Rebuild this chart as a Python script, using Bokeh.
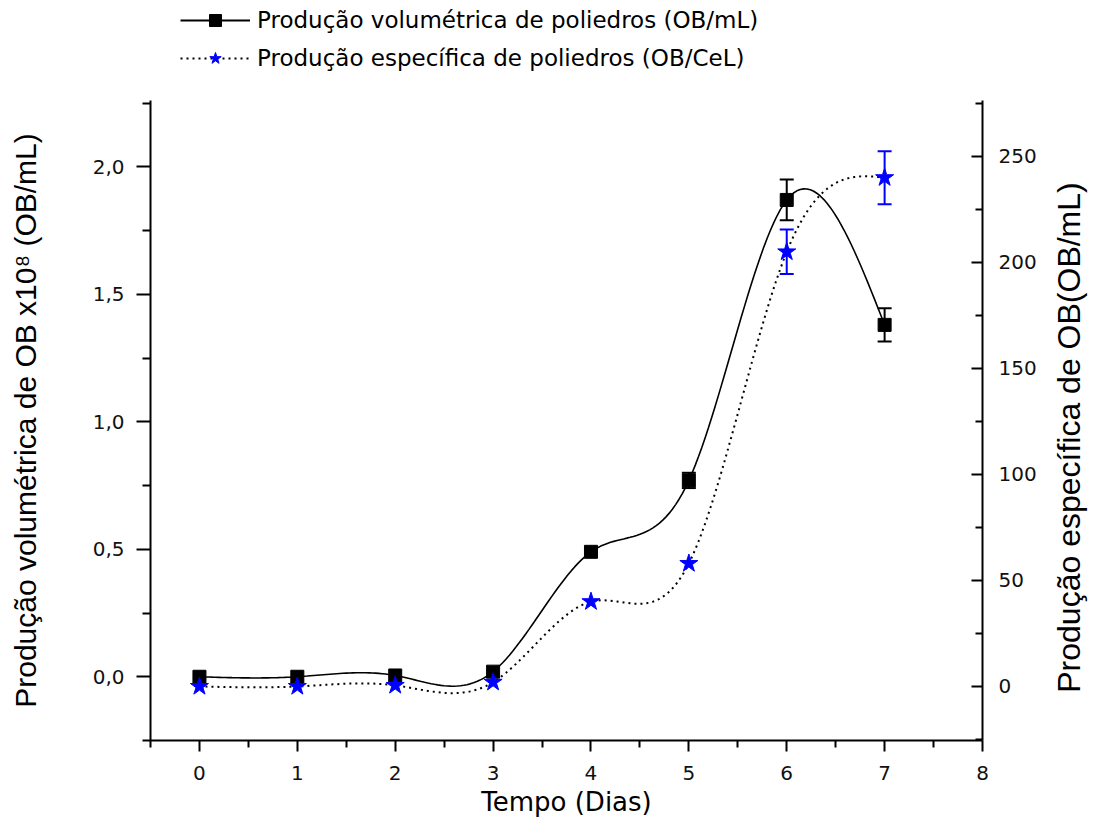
import numpy as np
from bokeh.plotting import figure
from bokeh.layouts import column, row
from bokeh.models import (Range1d, LinearAxis, FixedTicker, Whisker, TeeHead,
                          ColumnDataSource, Legend, LegendItem, Label)
from bokeh.embed import file_html
from bokeh.resources import INLINE

# ---- data ----
dias = [0, 1, 2, 3, 4, 5, 6, 7]
vol = [0.0, 0.0, 0.005, 0.02, 0.49, 0.77, 1.87, 1.38]          # OB/mL x10^8
vol_err = [0.0, 0.0, 0.0, 0.0, 0.0, 0.03, 0.08, 0.065]
esp = [0.0, 0.0, 0.5, 2.0, 40.0, 58.0, 205.0, 240.0]           # OB/CeL
esp_err = [0.0, 0.0, 0.0, 0.0, 0.0, 0.0, 10.5, 12.5]

x_ticks = [0, 1, 2, 3, 4, 5, 6, 7, 8]
left_ticks = [0.0, 0.5, 1.0, 1.5, 2.0]
left_labels = ["0,0", "0,5", "1,0", "1,5", "2,0"]
right_ticks = [0, 50, 100, 150, 200, 250]

label_vol = "Produção volumétrica de poliedros (OB/mL)"
label_esp = "Produção específica de poliedros (OB/CeL)"
title_x = "Tempo (Dias)"
title_left = "Produção volumétrica de OB x10⁸ (OB/mL)"
title_right = "Produção específica de OB(OB/mL)"


def natural_spline(x, y, n=30):
    x = np.asarray(x, float); y = np.asarray(y, float)
    m = len(x); h = np.diff(x)
    A = np.zeros((m, m)); b = np.zeros(m)
    A[0, 0] = 1; A[-1, -1] = 1
    for i in range(1, m - 1):
        A[i, i - 1] = h[i - 1]; A[i, i] = 2 * (h[i - 1] + h[i]); A[i, i + 1] = h[i]
        b[i] = 6 * ((y[i + 1] - y[i]) / h[i] - (y[i] - y[i - 1]) / h[i - 1])
    M = np.linalg.solve(A, b)
    xs, ys = [], []
    for i in range(m - 1):
        t = np.linspace(x[i], x[i + 1], n, endpoint=(i == m - 2))
        a = x[i + 1] - t; c = t - x[i]
        s = (M[i] * a ** 3 + M[i + 1] * c ** 3) / (6 * h[i]) \
            + (y[i] / h[i] - M[i] * h[i] / 6) * a + (y[i + 1] / h[i] - M[i + 1] * h[i] / 6) * c
        xs.extend(t); ys.extend(s)
    return xs, ys


FONT = "DejaVu Sans"
BLUE = "#0000ff"

p = figure(width=1045, height=726, output_backend="svg", toolbar_location=None,
           x_range=Range1d(-0.5, 8.0), y_range=Range1d(-0.25, 2.26),
           min_border_left=150, min_border_right=63, min_border_top=0,
           min_border_bottom=86, outline_line_color=None)
p.extra_y_ranges = {"right": Range1d(-25.5, 276.4)}
p.xgrid.visible = False
p.ygrid.visible = False
p.background_fill_color = "white"
p.border_fill_color = "white"

# axes styling
xa = p.xaxis[0]
xa.ticker = FixedTicker(ticks=x_ticks, minor_ticks=[v + 0.5 for v in range(-1, 8)])
xa.axis_label = title_x
ya = p.yaxis[0]
ya.ticker = FixedTicker(ticks=left_ticks, minor_ticks=[-0.25, 0.25, 0.75, 1.25, 1.75, 2.25])
ya.major_label_overrides = {t: l for t, l in zip(left_ticks, left_labels)}
ya.axis_label = title_left

ra = LinearAxis(y_range_name="right")
ra.ticker = FixedTicker(ticks=right_ticks, minor_ticks=[-25, 25, 75, 125, 175, 225, 275])
p.add_layout(ra, "right")

for ax in (xa, ya, ra):
    ax.axis_line_width = 2
    ax.axis_line_color = "black"
    ax.major_tick_line_width = 2
    ax.minor_tick_line_width = 2
    ax.major_tick_line_color = "black"
    ax.minor_tick_line_color = "black"
    ax.major_label_text_font = FONT
    ax.major_label_text_font_size = "20px"
    ax.major_label_text_color = "#111111"
    ax.axis_label_text_font_style = "normal"
    ax.axis_label_text_color = "black"

xa.major_tick_out = 11; xa.major_tick_in = 0
xa.minor_tick_out = 7; xa.minor_tick_in = 0
xa.axis_label_text_font = FONT
xa.axis_label_text_font_size = "26px"
xa.axis_label_standoff = 4
xa.major_label_standoff = 14

ya.major_tick_out = 14; ya.major_tick_in = 0
ya.minor_tick_out = 8; ya.minor_tick_in = 0
ya.major_label_standoff = 12
ya.axis_label_text_font = "Liberation Sans"
ya.axis_label_text_font_size = "30px"
ya.axis_label_standoff = 48

ra.major_tick_out = 0; ra.major_tick_in = 11
ra.minor_tick_out = 0; ra.minor_tick_in = 7
ra.major_label_standoff = 16

# ---- curves ----
sx, sy = natural_spline(dias, vol)
p.line(sx, sy, line_color="black", line_width=1.6)
ex, ey = natural_spline(dias, esp)
p.line(ex, ey, line_color="black", line_width=2, line_dash="2 4", y_range_name="right")

# error bars
iv = [i for i, e in enumerate(vol_err) if e > 0]
src_ve = ColumnDataSource(dict(x=[dias[i] for i in iv],
                               lo=[vol[i] - vol_err[i] for i in iv],
                               hi=[vol[i] + vol_err[i] for i in iv]))
p.add_layout(Whisker(source=src_ve, base="x", lower="lo", upper="hi", dimension="height",
                     line_color="black", line_width=2,
                     upper_head=TeeHead(size=14, line_color="black", line_width=2),
                     lower_head=TeeHead(size=14, line_color="black", line_width=2)))
ie = [i for i, e in enumerate(esp_err) if e > 0]
src_ee = ColumnDataSource(dict(x=[dias[i] for i in ie],
                               lo=[esp[i] - esp_err[i] for i in ie],
                               hi=[esp[i] + esp_err[i] for i in ie]))
p.add_layout(Whisker(source=src_ee, base="x", lower="lo", upper="hi", dimension="height",
                     y_range_name="right", line_color=BLUE, line_width=2,
                     upper_head=TeeHead(size=14, line_color=BLUE, line_width=2),
                     lower_head=TeeHead(size=14, line_color=BLUE, line_width=2)))

# markers
p.scatter(dias, vol, marker="square", size=13, fill_color="black", line_color="black")
p.scatter(dias, esp, marker="star", size=19, fill_color=BLUE, line_color=BLUE,
          y_range_name="right")

# ---- right-hand axis title strip (reads bottom to top) ----
rt = figure(width=49, height=726, output_backend="svg", toolbar_location=None,
            x_range=Range1d(0, 1), y_range=Range1d(0, 1), min_border=0,
            min_border_left=0, min_border_right=0, min_border_top=0,
            min_border_bottom=86, outline_line_color=None)
rt.axis.visible = False
rt.grid.visible = False
rt.add_layout(Label(x=23, y=303, x_units="screen", y_units="screen", text=title_right,
                    angle=float(np.pi / 2), text_align="center", text_baseline="middle",
                    text_font="Liberation Sans", text_font_size="32px",
                    text_color="black"))

# ---- legend strip above the plot ----
lg = figure(width=1094, height=100, output_backend="svg", toolbar_location=None,
            x_range=Range1d(100, 101), y_range=Range1d(1000, 1001), min_border=0,
            min_border_left=150, min_border_right=112, min_border_top=0,
            min_border_bottom=0, outline_line_color=None)
lg.axis.visible = False
lg.grid.visible = False
lv_line = lg.line(dias, vol, line_color="black", line_width=2)
lv_mark = lg.scatter(dias, vol, marker="square", size=13, fill_color="black",
                     line_color="black")
le_line = lg.line(dias, esp, line_color="black", line_width=2, line_dash="2 4")
le_mark = lg.scatter(dias, esp, marker="star", size=19, fill_color=BLUE, line_color=BLUE)

legend = Legend(items=[LegendItem(label=label_vol, renderers=[lv_line, lv_mark]),
                       LegendItem(label=label_esp, renderers=[le_line, le_mark])],
                location=(30, 27), orientation="vertical",
                glyph_width=70, glyph_height=30, label_height=30,
                spacing=8, padding=0, margin=0, label_standoff=7,
                label_text_font=FONT, label_text_font_size="23px",
                label_text_color="black",
                border_line_color=None, background_fill_alpha=0)
lg.add_layout(legend, "center")

layout = column(lg, row(p, rt, spacing=0), spacing=0)
open("out.html", "w").write(file_html(layout, INLINE))
